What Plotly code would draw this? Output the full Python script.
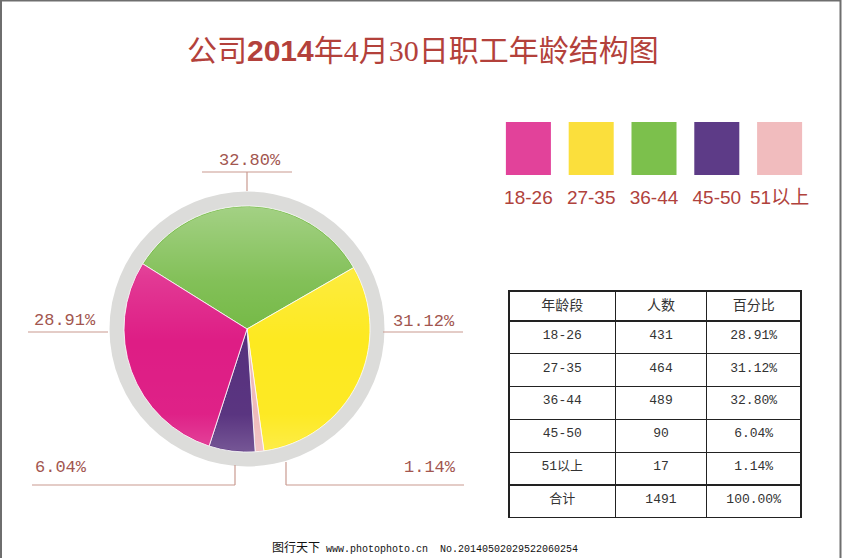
import base64
import plotly.graph_objects as go

# ---------------- data ----------------
categories = ["18-26", "27-35", "36-44", "45-50", "51以上"]
counts = [431, 464, 489, 90, 17]
percents = [28.91, 31.12, 32.80, 6.04, 1.14]
total_label = "合计"
total_count = 1491
total_percent = "100.00%"
header = ["年龄段", "人数", "百分比"]
title_text = "公司<span style='font-family:Liberation Sans'><b>2014</b></span>年<span style='font-family:Liberation Serif'>4</span>月<span style='font-family:Liberation Serif'>30</span>日职工年龄结构图"
watermark = "<span style='font-size:12px'>图行天下</span> www.photophoto.cn  No.20140502029522060254"

# ---------------- style ----------------
W, H = 842, 558
slice_colors = {"18-26": "#de1d85", "27-35": "#fde920", "36-44": "#72b842",
                "45-50": "#57317e", "51以上": "#eeb9b9"}
legend_colors = {"18-26": "#e2429a", "27-35": "#fbdf3c", "36-44": "#7cc04c",
                 "45-50": "#5d3b87", "51以上": "#f1bcbe"}
pie_order = ["36-44", "27-35", "51以上", "45-50", "18-26"]  # clockwise from ~10 o'clock
label_color = "#a2564f"
line_color = "#c99a90"
title_color = "#b3413b"

def px(x):
    return x / W

def py(y):
    return 1 - y / H

fig = go.Figure()

# gray ring behind the pie
fig.add_trace(go.Pie(values=[1], labels=["ring"], marker=dict(colors=["#dcdcda"], line=dict(width=0)),
                     textinfo="none", hoverinfo="skip", showlegend=False, sort=False,
                     domain=dict(x=[px(109.5), px(384.5)], y=[py(466.5), py(191.5)])))

# main pie
idx = [categories.index(c) for c in pie_order]
fig.add_trace(go.Pie(labels=[categories[i] for i in idx],
                     values=[counts[i] for i in idx],
                     marker=dict(colors=[slice_colors[categories[i]] for i in idx],
                                 line=dict(color="rgba(255,255,255,0.8)", width=1)),
                     textinfo="none", sort=False, direction="clockwise", rotation=302,
                     showlegend=False,
                     domain=dict(x=[px(124), px(370)], y=[py(452), py(206)])))

# legend swatches as bars
fig.add_trace(go.Bar(x=categories, y=[1] * len(categories), width=0.717,
                     marker=dict(color=[legend_colors[c] for c in categories], line=dict(width=0)),
                     showlegend=False, hoverinfo="skip"))

# table
pct_text = [f"{p:.2f}%" for p in percents]
fig.add_trace(go.Table(
    domain=dict(x=[px(509), px(802)], y=[py(518), py(291)]),
    columnwidth=[107, 91, 95],
    header=dict(values=header, height=30, align="center",
                line=dict(color="#222", width=1.3), fill=dict(color="white"),
                font=dict(family="Liberation Mono, Noto Sans CJK SC", size=14, color="#333")),
    cells=dict(values=[categories + [total_label],
                       [str(c) for c in counts] + [str(total_count)],
                       pct_text + [total_percent]],
               height=32.8, align="center",
               line=dict(color="#222", width=1.3), fill=dict(color="white"),
               font=dict(family="Liberation Mono, Noto Sans CJK SC", size=13, color="#333"))))

shapes = []
annotations = []

# percentage labels with leader lines
label_pos = {
    "36-44": dict(x=250, y=160),
    "18-26": dict(x=65, y=320),
    "27-35": dict(x=424, y=321),
    "45-50": dict(x=61, y=467),
    "51以上": dict(x=430, y=467),
}
for c, p in zip(categories, percents):
    pos = label_pos[c]
    annotations.append(dict(x=px(pos["x"]), y=py(pos["y"]), xref="paper", yref="paper",
                            text=f"{p:.2f}%", showarrow=False, xanchor="center", yanchor="middle",
                            font=dict(family="Liberation Mono", size=17, color=label_color)))

leader_lines = [
    (202, 172, 292, 172), (247, 172, 247, 191),   # 32.80%
    (28, 332, 108, 332),                          # 28.91%
    (383, 332, 463, 332),                         # 31.12%
    (32, 485, 235, 485), (235, 465, 235, 485),    # 6.04%
    (286, 485, 464, 485), (286, 462, 286, 485),   # 1.14%
]
for x0, y0, x1, y1 in leader_lines:
    shapes.append(dict(type="line", xref="paper", yref="paper", x0=px(x0), y0=py(y0), x1=px(x1), y1=py(y1),
                       line=dict(color=line_color, width=1.2)))

# frame
shapes.append(dict(type="rect", xref="paper", yref="paper", x0=px(1), y0=py(600), x1=px(840.5), y1=py(0.5),
                   line=dict(color="#6e6e6e", width=2), fillcolor="rgba(0,0,0,0)"))

# title
annotations.append(dict(x=px(423), y=py(48), xref="paper", yref="paper", text=title_text, showarrow=False,
                        xanchor="center", yanchor="middle",
                        font=dict(family="Noto Sans CJK SC", size=30, color=title_color)))

# watermark
annotations.append(dict(x=px(270), y=py(548), xref="paper", yref="paper", text=watermark, showarrow=False,
                        xanchor="left", yanchor="middle",
                        font=dict(family="Liberation Mono, Noto Sans CJK SC", size=10, color="#111")))

# glossy vertical shading over the pie (decorative)
gloss_svg = (
    "<svg xmlns='http://www.w3.org/2000/svg' viewBox='0 0 100 100'>"
    "<defs><linearGradient id='g' x1='0' y1='0' x2='0' y2='1'>"
    "<stop offset='0' stop-color='white' stop-opacity='0.35'/>"
    "<stop offset='0.3' stop-color='white' stop-opacity='0.12'/>"
    "<stop offset='0.55' stop-color='white' stop-opacity='0'/>"
    "<stop offset='0.85' stop-color='white' stop-opacity='0.02'/>"
    "<stop offset='1' stop-color='white' stop-opacity='0.18'/>"
    "</linearGradient></defs>"
    "<circle cx='50' cy='50' r='49.6' fill='url(#g)'/></svg>"
)
gloss_uri = "data:image/svg+xml;base64," + base64.b64encode(gloss_svg.encode()).decode()

fig.update_layout(
    width=W, height=H, margin=dict(l=0, r=0, t=0, b=0),
    paper_bgcolor="white", plot_bgcolor="white",
    shapes=shapes, annotations=annotations,
    images=[dict(source=gloss_uri, xref="paper", yref="paper", x=px(124), y=py(206),
                 sizex=246 / W, sizey=246 / H, sizing="stretch", xanchor="left", yanchor="top",
                 layer="above")],
    xaxis=dict(domain=[px(497), px(811)], showgrid=False, zeroline=False, showline=False,
               ticks="outside", ticklen=5, tickcolor="rgba(0,0,0,0)",
               tickfont=dict(family="Liberation Sans, Noto Sans CJK SC", size=19, color="#b0423c"),
               fixedrange=True),
    yaxis=dict(domain=[py(175), py(122)], range=[0, 1], visible=False, fixedrange=True),
    bargap=0.28,
)

fig.write_html("out.html")
